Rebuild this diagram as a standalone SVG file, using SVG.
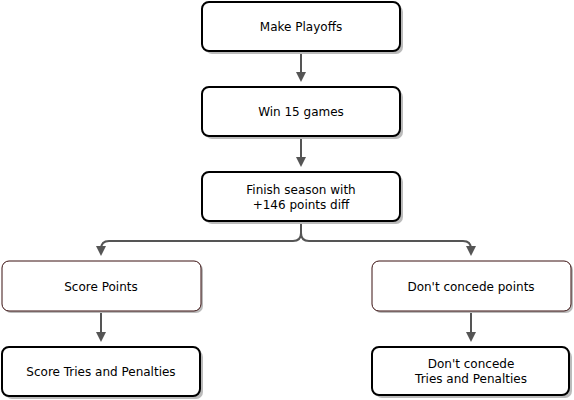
<svg xmlns="http://www.w3.org/2000/svg" width="574" height="400" viewBox="0 0 574 400">
<style>
.box{fill:#fff;stroke:#000;stroke-width:2}
.box2{fill:#fff;stroke:#3a1010;stroke-width:1}
.sh{fill:#bbb}
text{font-family:"DejaVu Sans",Verdana,sans-serif;font-size:12px;fill:#000;text-anchor:middle}
.c{fill:none;stroke:#555;stroke-width:2}
</style>
<defs>
<marker id="a" markerWidth="10" markerHeight="10" refX="5" refY="5" orient="auto" markerUnits="userSpaceOnUse">
<path d="M0,0 L10,5 L0,10 Z" fill="#555"/>
</marker>
</defs>
<rect width="574" height="400" fill="#fff"/>
<g id="connectors">
<path class="c" d="M301,51 V77" marker-end="url(#a)"/>
<path class="c" d="M301,136 V162" marker-end="url(#a)"/>
<path class="c" d="M301,221 V233 Q301,241 293,241 H109 Q101,241 101,249 V251" marker-end="url(#a)"/>
<path class="c" d="M301,221 V233 Q301,241 309,241 H463 Q471,241 471,249 V251" marker-end="url(#a)"/>
<path class="c" d="M101,311 V337" marker-end="url(#a)"/>
<path class="c" d="M471,311 V337" marker-end="url(#a)"/>
</g>
<g id="n1"><rect class="sh" x="205" y="5" width="198" height="49" rx="7"/><rect class="box" x="202" y="2" width="198" height="49" rx="7"/><text x="301" y="31">Make Playoffs</text></g>
<g id="n2"><rect class="sh" x="205" y="90" width="198" height="49" rx="7"/><rect class="box" x="202" y="87" width="198" height="49" rx="7"/><text x="301" y="116">Win 15 games</text></g>
<g id="n3"><rect class="sh" x="205" y="175" width="198" height="49" rx="7"/><rect class="box" x="202" y="172" width="198" height="49" rx="7"/><text x="301" y="194">Finish season with</text><text x="301" y="209"> +146 points diff</text></g>
<g id="n4"><rect class="sh" x="4" y="263" width="199" height="50" rx="7"/><rect class="box2" x="2" y="261" width="199" height="50" rx="7"/><text x="101" y="291">Score Points</text></g>
<g id="n5"><rect class="sh" x="5" y="350" width="198" height="49" rx="7"/><rect class="box" x="2" y="347" width="198" height="49" rx="7"/><text x="101" y="376">Score Tries and Penalties</text></g>
<g id="n6"><rect class="sh" x="374" y="263" width="199" height="50" rx="7"/><rect class="box2" x="372" y="261" width="199" height="50" rx="7"/><text x="471" y="291">Don't concede points</text></g>
<g id="n7"><rect class="sh" x="375" y="350" width="197" height="48" rx="7"/><rect class="box" x="372" y="347" width="197" height="48" rx="7"/><text x="471" y="368">Don't concede</text><text x="471" y="383">Tries and Penalties</text></g>
</svg>
